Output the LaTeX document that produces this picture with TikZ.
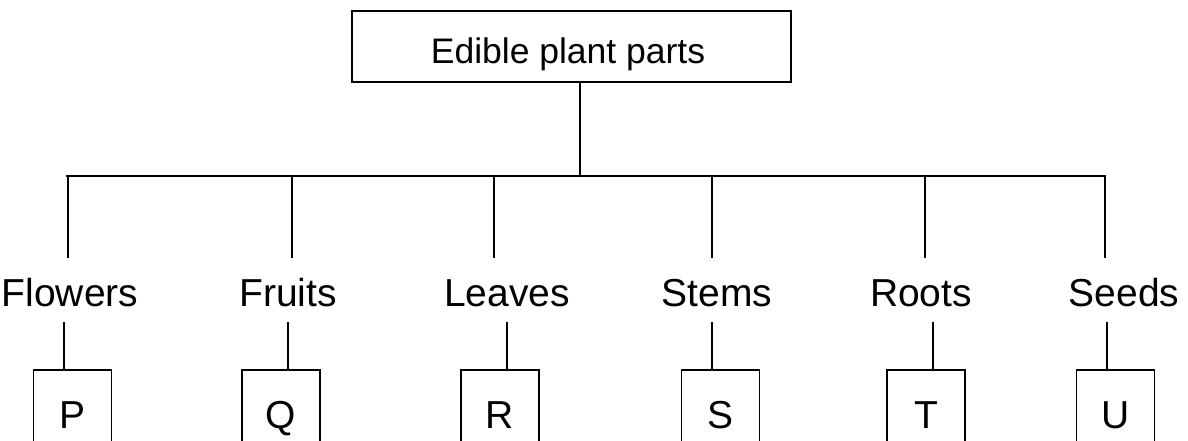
\documentclass[tikz,border=0pt]{standalone}
\usepackage{fontspec}
\setmainfont{Liberation Sans}
\begin{document}
\begin{tikzpicture}[x=1pt,y=-1pt,
  line width=1.7pt,
  lab/.style={font=\fontsize{39}{40}\selectfont, inner sep=0pt, text height=27.9pt, text depth=0pt},
  ttl/.style={font=\fontsize{35.5}{37}\selectfont, inner sep=0pt, anchor=base},
  topbox/.style={draw, minimum width=439pt, minimum height=71pt, inner sep=0pt},
  letbox/.style={draw, minimum width=78pt, minimum height=90pt, inner sep=0pt, anchor=north,
    font=\fontsize{39}{40}\selectfont, text height=27.9pt, text depth=0pt},
  up/.style={shorten >=20pt},
  down/.style={shorten <=15pt}]
\fill[white] (0,0) rectangle (1188,440);
\useasboundingbox (0,0) rectangle (1188,440);
\clip (0,0) rectangle (1188,440);

% top box
\node[topbox] (top) at (571.5,46.5) {};
\node[ttl] (title) at (568,63) {Edible plant parts};
\coordinate (stem) at (580,176);
\coordinate (hl) at (66,176);
\coordinate (hr) at (1106,176);
\draw (stem |- top.south) -- (stem);
\draw (hl) -- (hr);

% labels
\node[lab] (fl) at (70,292.5) {Flowers};
\node[lab] (fr) at (288,292.5) {Fruits};
\node[lab] (le) at (507,292.5) {Leaves};
\node[lab] (st) at (717,292.5) {Stems};
\node[lab] (ro) at (921,292.5) {Roots};
\node[lab] (se) at (1124,292.5) {Seeds};

% drop points on bar
\coordinate (d1) at (68,176);
\coordinate (d2) at (292,176);
\coordinate (d3) at (494,176);
\coordinate (d4) at (712,176);
\coordinate (d5) at (925,176);
\coordinate (d6) at (1105,176);
\draw[up] (d1) -- (d1 |- fl.north);
\draw[up] (d2) -- (d2 |- fr.north);
\draw[up] (d3) -- (d3 |- le.north);
\draw[up] (d4) -- (d4 |- st.north);
\draw[up] (d5) -- (d5 |- ro.north);
\draw[up] (d6) -- (d6 |- se.north);

% letter boxes (bottom edge lies below the picture)
\node[letbox] (bp) at (72.5,369) {P};
\node[letbox] (bq) at (281,369) {Q};
\node[letbox] (br) at (500,369) {R};
\node[letbox] (bs) at (720.5,369) {S};
\node[letbox] (bt) at (926,369) {T};
\node[letbox] (bu) at (1115.5,369) {U};

% lower connectors
\coordinate (l1) at (64,369);
\coordinate (l2) at (288,369);
\coordinate (l3) at (507,369);
\coordinate (l4) at (712,369);
\coordinate (l5) at (933,369);
\coordinate (l6) at (1107,369);
\draw[down] (l1 |- fl.south) -- (l1);
\draw[down] (l2 |- fr.south) -- (l2);
\draw[down] (l3 |- le.south) -- (l3);
\draw[down] (l4 |- st.south) -- (l4);
\draw[down] (l5 |- ro.south) -- (l5);
\draw[down] (l6 |- se.south) -- (l6);
\end{tikzpicture}
\end{document}
